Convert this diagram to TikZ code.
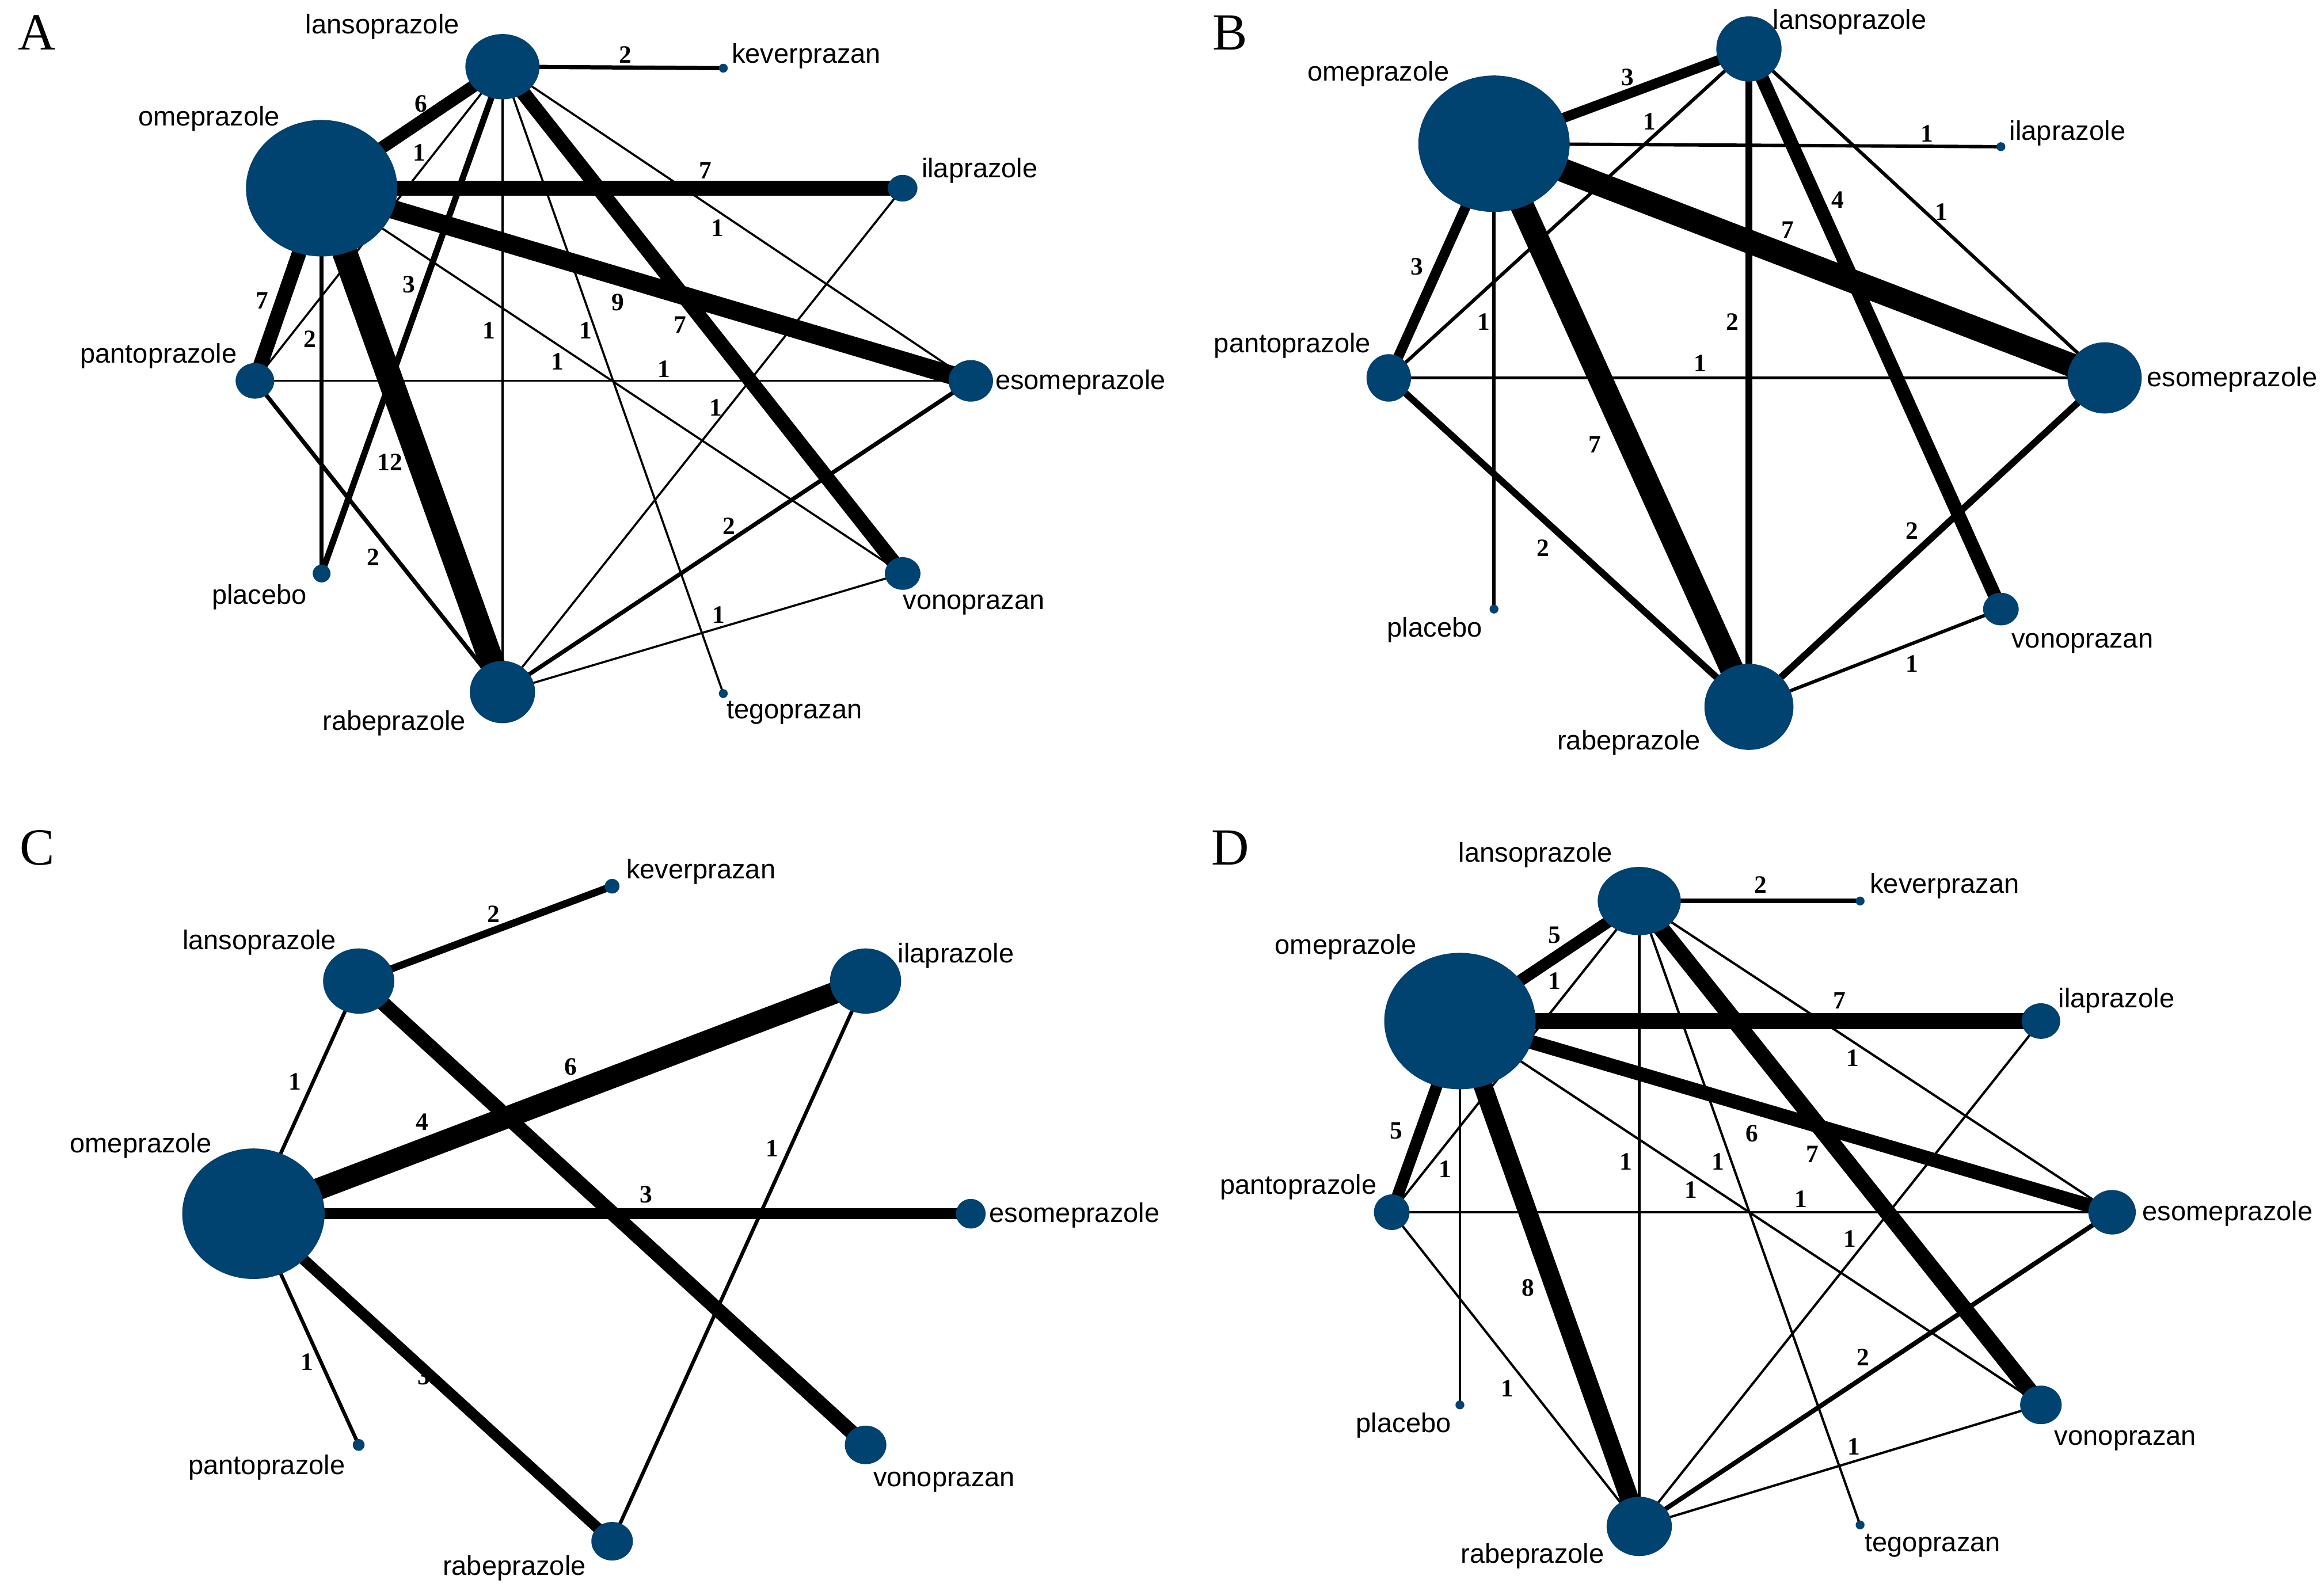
\documentclass[tikz,border=0pt]{standalone}
\usepackage{fontspec}
\setmainfont{Liberation Sans}
\newfontfamily\serifnum{Liberation Serif}
\usetikzlibrary{shapes.geometric}
\definecolor{nodeblue}{RGB}{0,66,112}
\pgfdeclarelayer{background}
\pgfsetlayers{background,main}
\newcommand\labfont{\fontsize{5.2pt}{6pt}\selectfont}
\newcommand\wtfont{\serifnum\bfseries\fontsize{4.8pt}{5.5pt}\selectfont}
\newcommand\ewscale{0.4}
\tikzset{
 nd/.style={ellipse, fill=nodeblue, inner sep=0pt, outer sep=0pt},
 lab/.style={font=\labfont, inner sep=0pt},
 wt/.style={font=\wtfont, inner sep=0pt},
 pan/.style={font=\serifnum\fontsize{10pt}{12pt}\selectfont, inner sep=0pt}
}
\newcommand\N[5]{\node[nd, minimum width={#4*0.02cm}, minimum height={#5*0.02cm}] (#1) at (#2,#3) {};}
\newcommand\E[5]{\begin{pgfonlayer}{background}\draw[line width={#3*\ewscale*1pt}] (#1.center) -- (#2.center);\end{pgfonlayer}\node[wt] at (#4) {#5};}
\newcommand\T[3]{\node[lab] at (#1,#2) {#3};}
\begin{document}
\begin{tikzpicture}[x=0.01cm,y=-0.01cm]
\useasboundingbox (0,0) rectangle (1568,1076);
% ---------- A ----------
\node[pan] (pA) at (25,22) {A};
\N{aL}{339}{45}{25}{22} \N{aK}{488}{46}{3}{3} \N{aO}{217}{127}{51}{46}
\N{aI}{609}{127}{10}{9} \N{aP}{172}{257}{13}{12} \N{aE}{655}{257}{15}{14}
\N{aPl}{217}{387}{6}{6} \N{aV}{609}{387}{12}{11} \N{aR}{339}{467}{22}{21} \N{aT}{488}{468}{3}{3}
\T{544}{38}{keverprazan} \T{258}{18}{lansoprazole} \T{141}{80}{omeprazole}
\T{661}{115}{ilaprazole} \T{107}{240}{pantoprazole} \T{729}{258}{esomeprazole}
\T{175}{403}{placebo} \T{657}{408}{vonoprazan} \T{266}{488}{rabeprazole} \T{536}{481}{tegoprazan}
\E{aL}{aK}{2}{422,37}{2} \E{aO}{aL}{6}{284,70}{6} \E{aL}{aP}{1}{283,103}{1}
\E{aO}{aI}{7}{476,115}{7} \E{aL}{aE}{1}{484,154}{1} \E{aO}{aP}{7}{177,203}{7}
\E{aL}{aPl}{3}{276,192}{3} \E{aO}{aPl}{2}{209,229}{2} \E{aO}{aE}{9}{417,204}{9}
\E{aL}{aV}{7}{459,219}{7} \E{aL}{aR}{1}{330,223}{1} \E{aL}{aT}{1}{395,223}{1}
\E{aO}{aV}{1}{376,244}{1} \E{aP}{aE}{1}{448,249}{1} \E{aI}{aR}{1}{483,275}{1}
\E{aO}{aR}{12}{263,312}{12} \E{aE}{aR}{2}{492,355}{2} \E{aP}{aR}{2}{252,376}{2}
\E{aV}{aR}{1}{485,415}{1}
% ---------- B ----------
\renewcommand\ewscale{0.65}
\node[pan] (pB) at (830,22) {B};
\N{bL}{1180}{33}{22}{22} \N{bO}{1008}{97}{51}{46} \N{bI}{1350}{99}{3}{3}
\N{bP}{937}{255}{15}{16} \N{bE}{1420}{255}{25}{24} \N{bPl}{1008}{411}{3}{3}
\N{bV}{1350}{411}{12}{11} \N{bR}{1180}{477}{30}{29}
\T{1248}{15}{lansoprazole} \T{930}{50}{omeprazole} \T{1395}{90}{ilaprazole}
\T{872}{233}{pantoprazole} \T{1506}{256}{esomeprazole} \T{968}{425}{placebo}
\T{1405}{434}{vonoprazan} \T{1099}{501}{rabeprazole}
\E{bO}{bL}{3}{1098,52}{3} \E{bO}{bI}{1}{1300,90}{1} \E{bL}{bP}{1}{1113,82}{1}
\E{bL}{bE}{1}{1310,143}{1} \E{bL}{bV}{4}{1240,135}{4} \E{bO}{bE}{7}{1206,155}{7}
\E{bO}{bP}{3}{956,180}{3} \E{bO}{bPl}{1}{1001,217}{1} \E{bL}{bR}{2}{1169,217}{2}
\E{bP}{bE}{1}{1147,245}{1} \E{bO}{bR}{7}{1076,300}{7} \E{bP}{bR}{2}{1041,370}{2}
\E{bE}{bR}{2}{1290,358}{2} \E{bR}{bV}{1}{1290,448}{1}
% ---------- C ----------
\renewcommand\ewscale{0.7}
\node[pan] (pC) at (25,572) {C};
\N{cK}{413}{598}{5}{5} \N{cL}{242}{662}{24}{22} \N{cI}{584}{662}{24}{22}
\N{cO}{171}{819}{48}{44} \N{cE}{655}{819}{10}{10} \N{cP}{242}{975}{4}{4}
\N{cV}{584}{975}{14}{13} \N{cR}{413}{1040}{14}{13}
\T{473}{588}{keverprazan} \T{175}{636}{lansoprazole} \T{645}{645}{ilaprazole}
\T{95}{773}{omeprazole} \T{725}{820}{esomeprazole} \T{180}{990}{pantoprazole}
\T{637}{1000}{vonoprazan} \T{347}{1058}{rabeprazole}
\E{cL}{cK}{2}{333,617}{2} \E{cO}{cL}{1}{199,730}{1} \E{cL}{cV}{4}{285,757}{4}
\E{cO}{cI}{6}{385,720}{6} \E{cO}{cE}{3}{436,806}{3} \E{cI}{cR}{1}{521,775}{1}
\E{cO}{cP}{1}{207,919}{1} \E{cO}{cR}{3}{286,929}{3}
% ---------- D ----------
\renewcommand\ewscale{0.45}
\node[pan] (pD) at (830,572) {D};
\N{dL}{1106}{608}{28}{23} \N{dK}{1255}{608}{3}{3} \N{dO}{985}{689}{51}{46}
\N{dI}{1377}{689}{13}{12} \N{dP}{939}{818}{12}{12} \N{dE}{1425}{818}{16}{15}
\N{dPl}{985}{948}{3}{3} \N{dV}{1377}{948}{14}{13} \N{dR}{1106}{1030}{22}{20} \N{dT}{1255}{1029}{3}{3}
\T{1036}{577}{lansoprazole} \T{1312}{598}{keverprazan} \T{908}{639}{omeprazole}
\T{1428}{675}{ilaprazole} \T{876}{801}{pantoprazole} \T{1503}{819}{esomeprazole}
\T{947}{962}{placebo} \T{1434}{972}{vonoprazan} \T{1034}{1050}{rabeprazole} \T{1304}{1043}{tegoprazan}
\E{dL}{dK}{2}{1188,597}{2} \E{dO}{dL}{5}{1049,631}{5} \E{dL}{dP}{1}{1049,662}{1}
\E{dO}{dI}{7}{1241,675}{7} \E{dL}{dE}{1}{1250,714}{1} \E{dO}{dP}{5}{942,763}{5}
\E{dO}{dPl}{1}{975,789}{1} \E{dO}{dE}{6}{1182,765}{6} \E{dL}{dV}{7}{1223,779}{7}
\E{dL}{dR}{1}{1097,784}{1} \E{dL}{dT}{1}{1159,784}{1} \E{dO}{dV}{1}{1141,803}{1}
\E{dP}{dE}{1}{1215,809}{1} \E{dI}{dR}{1}{1248,836}{1} \E{dO}{dR}{8}{1031,869}{8}
\E{dE}{dR}{2}{1257,916}{2} \E{dP}{dR}{1}{1017,937}{1} \E{dV}{dR}{1}{1251,976}{1}
\end{tikzpicture}
\end{document}
